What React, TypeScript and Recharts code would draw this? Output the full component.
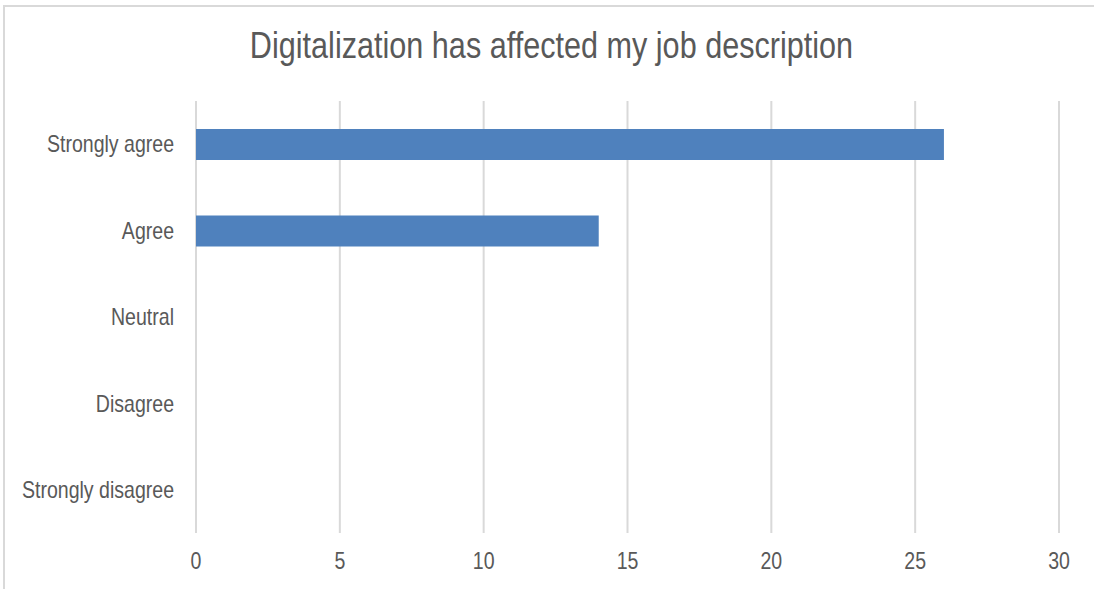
import React from 'react';
import { BarChart, Bar, XAxis, YAxis, CartesianGrid } from 'recharts';

const categories = ['Strongly agree', 'Agree', 'Neutral', 'Disagree', 'Strongly disagree'];
const counts = [26, 14, 0, 0, 0];
const xTicks = [0, 5, 10, 15, 20, 25, 30];

const data = categories.map((name, i) => ({ name, value: counts[i] }));

const font = '"Liberation Sans", Arial, sans-serif';
const textColor = '#595959';
// the original uses a narrow face; squeeze the regular one to match
const squeeze = 0.85;

const YTick = (props: any) => {
  const { x, y, payload } = props;
  return (
    <g transform={`translate(${x},${y})`}>
      <text
        transform={`scale(${squeeze},1)`}
        textAnchor="end"
        dy="0.355em"
        fill={textColor}
        fontSize={23}
        fontFamily={font}
      >
        {payload.value}
      </text>
    </g>
  );
};

const XTick = (props: any) => {
  const { x, y, payload } = props;
  return (
    <g transform={`translate(${x},${y})`}>
      <text
        transform={`scale(${squeeze},1)`}
        textAnchor="middle"
        dy="0.71em"
        fill={textColor}
        fontSize={23}
        fontFamily={font}
      >
        {payload.value}
      </text>
    </g>
  );
};

const App: React.FC = () => {
  return (
    <div
      style={{
        position: 'absolute',
        left: 0,
        top: 0,
        width: 1094,
        height: 589,
        overflow: 'hidden',
        background: '#fff',
        fontFamily: font,
      }}
    >
      {/* chart frame, cut off at right and bottom */}
      <div
        style={{
          position: 'absolute',
          left: 3,
          top: 5,
          width: 1110,
          height: 600,
          border: '2px solid #d9d9d9',
        }}
      />
      <div
        style={{
          position: 'absolute',
          left: 0,
          top: 24,
          width: 1103,
          textAlign: 'center',
          fontSize: 36,
          color: textColor,
          lineHeight: '44px',
          whiteSpace: 'nowrap',
          transform: `scaleX(${squeeze})`,
          transformOrigin: 'center',
        }}
      >
        Digitalization has affected my job description
      </div>
      <div style={{ position: 'absolute', left: 0, top: 0 }}>
        <BarChart
          width={1094}
          height={589}
          data={data}
          layout="vertical"
          margin={{ top: 101, right: 35, bottom: 0, left: 0 }}
        >
          <CartesianGrid horizontal={false} stroke="#d9d9d9" strokeWidth={2} />
          <XAxis
            type="number"
            domain={[0, 30]}
            ticks={xTicks}
            axisLine={false}
            tickLine={false}
            tickSize={0}
            tickMargin={20}
            height={56}
            tick={<XTick />}
          />
          <YAxis
            type="category"
            dataKey="name"
            width={196}
            axisLine={false}
            tickLine={false}
            tickSize={0}
            tickMargin={22}
            tick={<YTick />}
          />
          <Bar dataKey="value" fill="#4f81bd" barSize={31} isAnimationActive={false} />
        </BarChart>
      </div>
    </div>
  );
};

export default App;
